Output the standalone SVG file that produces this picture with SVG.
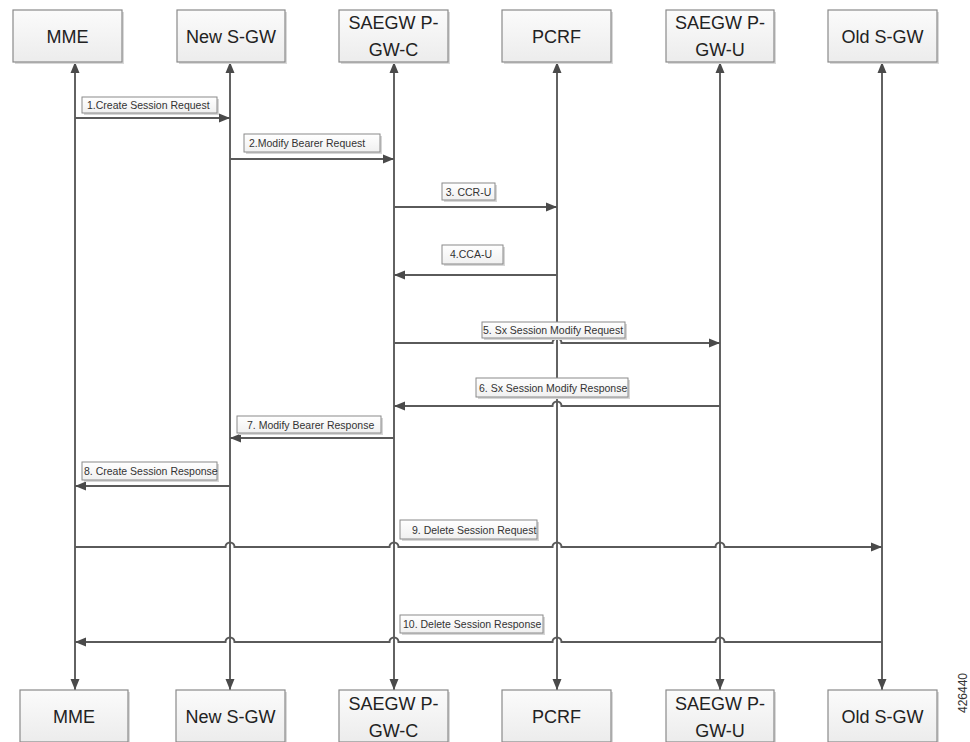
<svg xmlns="http://www.w3.org/2000/svg" width="970" height="742" viewBox="0 0 970 742">
<style>
  .box{fill:url(#boxg);stroke:#8a8a8a;stroke-width:1.2}
  .shadow{fill:#d9d9d9}
  .ntext{font-family:"Liberation Sans",Arial,sans-serif;font-size:18px;fill:#222;text-anchor:middle}
  .life{stroke:#626262;stroke-width:2;fill:none;marker-start:url(#ah);marker-end:url(#ah)}
  .msg{stroke:#5a5a5a;stroke-width:2;fill:none}
  .r{marker-end:url(#ah)}
  .l{marker-start:url(#ah)}
  .lbl{fill:url(#lblg);stroke:#8a8a8a;stroke-width:1}
  .lshadow{fill:#d6d6d6}
  .ltext{font-family:"Liberation Sans",Arial,sans-serif;font-size:10.5px;fill:#333}
  .id{font-family:"Liberation Sans",Arial,sans-serif;font-size:12px;fill:#333;text-anchor:middle}
</style>
<defs>
  <linearGradient id="boxg" x1="0" y1="0" x2="0" y2="1">
    <stop offset="0" stop-color="#fbfbfb"/>
    <stop offset="1" stop-color="#ececec"/>
  </linearGradient>
  <linearGradient id="lblg" x1="0" y1="0" x2="0" y2="1">
    <stop offset="0" stop-color="#ffffff"/>
    <stop offset="1" stop-color="#f0f0f0"/>
  </linearGradient>
  <marker id="ah" markerUnits="userSpaceOnUse" markerWidth="12" markerHeight="10" refX="11" refY="5" orient="auto-start-reverse">
    <path d="M0,0.5 L11,5 L0,9.5 Z" fill="#4a4a4a"/>
  </marker>
</defs>
<rect width="970" height="742" fill="#ffffff"/>

<g id="connectors">
  <g id="lifelines">
    <line class="life" x1="75" y1="62" x2="75" y2="690"/>
    <line class="life" x1="230" y1="62" x2="230" y2="690"/>
    <line class="life" x1="394" y1="62" x2="394" y2="690"/>
    <line class="life" x1="557" y1="62" x2="557" y2="690"/>
    <line class="life" x1="720" y1="62" x2="720" y2="690"/>
    <line class="life" x1="882" y1="62" x2="882" y2="690"/>
  </g>
  <g id="m1">
    <path class="msg r" d="M75,118 H230"/>
    <rect class="lshadow" x="84" y="99" width="135" height="16"/>
    <rect class="lbl" x="82" y="97" width="135" height="16"/>
    <text class="ltext" x="87" y="108.5">1.Create Session Request</text>
  </g>
  <g id="m2">
    <path class="msg r" d="M230,159 H394"/>
    <rect class="lshadow" x="246" y="136" width="136" height="18"/>
    <rect class="lbl" x="244" y="134" width="136" height="18"/>
    <text class="ltext" x="249" y="146.5">2.Modify Bearer Request</text>
  </g>
  <g id="m3">
    <path class="msg r" d="M394,207 H557"/>
    <rect class="lshadow" x="444" y="185" width="53" height="17"/>
    <rect class="lbl" x="442" y="183" width="53" height="17"/>
    <text class="ltext" x="468.5" y="195.5" text-anchor="middle">3. CCR-U</text>
  </g>
  <g id="m4">
    <path class="msg l" d="M394,275 H557"/>
    <rect class="lshadow" x="444" y="247" width="61" height="19"/>
    <rect class="lbl" x="442" y="245" width="61" height="19"/>
    <text class="ltext" x="471" y="258" text-anchor="middle">4.CCA-U</text>
  </g>
  <g id="m5">
    <path class="msg r" d="M394,343 H552.5 A4.5,4.5 0 0 1 561.5,343 H720"/>
    <rect class="lshadow" x="484" y="324" width="143" height="16"/>
    <rect class="lbl" x="482" y="322" width="143" height="16"/>
    <text class="ltext" x="483" y="333.5">5. Sx Session Modify Request</text>
  </g>
  <g id="m6">
    <path class="msg l" d="M394,406 H552.5 A4.5,4.5 0 0 1 561.5,406 H720"/>
    <rect class="lshadow" x="478" y="380" width="152" height="19"/>
    <rect class="lbl" x="476" y="378" width="152" height="19"/>
    <text class="ltext" x="479" y="391.5">6. Sx Session Modify Response</text>
  </g>
  <g id="m7">
    <path class="msg l" d="M230,438 H394"/>
    <rect class="lshadow" x="239" y="418" width="144" height="17"/>
    <rect class="lbl" x="237" y="416" width="144" height="17"/>
    <text class="ltext" x="247" y="428.5">7. Modify Bearer Response</text>
  </g>
  <g id="m8">
    <path class="msg l" d="M75,486 H230"/>
    <rect class="lshadow" x="84" y="464" width="135" height="18"/>
    <rect class="lbl" x="82" y="462" width="135" height="18"/>
    <text class="ltext" x="84" y="475">8. Create Session Response</text>
  </g>
  <g id="m9">
    <path class="msg r" d="M75,547 H225.5 A4.5,4.5 0 0 1 234.5,547 H389.5 A4.5,4.5 0 0 1 398.5,547 H552.5 A4.5,4.5 0 0 1 561.5,547 H715.5 A4.5,4.5 0 0 1 724.5,547 H882"/>
    <rect class="lshadow" x="402" y="522" width="137" height="19"/>
    <rect class="lbl" x="400" y="520" width="137" height="19"/>
    <text class="ltext" x="412" y="533.5">9. Delete Session Request</text>
  </g>
  <g id="m10">
    <path class="msg l" d="M75,642 H225.5 A4.5,4.5 0 0 1 234.5,642 H389.5 A4.5,4.5 0 0 1 398.5,642 H552.5 A4.5,4.5 0 0 1 561.5,642 H715.5 A4.5,4.5 0 0 1 724.5,642 H882"/>
    <rect class="lshadow" x="402" y="617" width="143" height="18"/>
    <rect class="lbl" x="400" y="615" width="143" height="18"/>
    <text class="ltext" x="403" y="628">10. Delete Session Response</text>
  </g>
</g>

<g id="node-mme">
  <rect class="shadow" x="15" y="12" width="109" height="52"/>
  <rect class="box" x="13" y="10" width="109" height="52"/>
  <text class="ntext" x="67.5" y="43">MME</text>
  <rect class="shadow" x="22" y="692" width="108" height="52"/>
  <rect class="box" x="20" y="690" width="108" height="52"/>
  <text class="ntext" x="74" y="723">MME</text>
</g>
<g id="node-new-sgw">
  <rect class="shadow" x="179" y="12" width="108" height="52"/>
  <rect class="box" x="177" y="10" width="108" height="52"/>
  <text class="ntext" x="231" y="43">New S-GW</text>
  <rect class="shadow" x="178" y="692" width="109" height="52"/>
  <rect class="box" x="176" y="690" width="109" height="52"/>
  <text class="ntext" x="230.5" y="723">New S-GW</text>
</g>
<g id="node-pgw-c">
  <rect class="shadow" x="341" y="12" width="109" height="52"/>
  <rect class="box" x="339" y="10" width="109" height="52"/>
  <text class="ntext" x="393.5" y="29">SAEGW P-</text>
  <text class="ntext" x="393.5" y="56">GW-C</text>
  <rect class="shadow" x="341" y="692" width="109" height="52"/>
  <rect class="box" x="339" y="690" width="109" height="52"/>
  <text class="ntext" x="393.5" y="710">SAEGW P-</text>
  <text class="ntext" x="393.5" y="737">GW-C</text>
</g>
<g id="node-pcrf">
  <rect class="shadow" x="504" y="12" width="109" height="52"/>
  <rect class="box" x="502" y="10" width="109" height="52"/>
  <text class="ntext" x="556.5" y="43">PCRF</text>
  <rect class="shadow" x="504" y="692" width="109" height="52"/>
  <rect class="box" x="502" y="690" width="109" height="52"/>
  <text class="ntext" x="556.5" y="723">PCRF</text>
</g>
<g id="node-pgw-u">
  <rect class="shadow" x="668" y="12" width="108" height="52"/>
  <rect class="box" x="666" y="10" width="108" height="52"/>
  <text class="ntext" x="720" y="29">SAEGW P-</text>
  <text class="ntext" x="720" y="56">GW-U</text>
  <rect class="shadow" x="668" y="692" width="108" height="52"/>
  <rect class="box" x="666" y="690" width="108" height="52"/>
  <text class="ntext" x="720" y="710">SAEGW P-</text>
  <text class="ntext" x="720" y="737">GW-U</text>
</g>
<g id="node-old-sgw">
  <rect class="shadow" x="830" y="12" width="109" height="52"/>
  <rect class="box" x="828" y="10" width="109" height="52"/>
  <text class="ntext" x="882.5" y="43">Old S-GW</text>
  <rect class="shadow" x="830" y="692" width="109" height="52"/>
  <rect class="box" x="828" y="690" width="109" height="52"/>
  <text class="ntext" x="882.5" y="723">Old S-GW</text>
</g>

<text class="id" transform="translate(967,693) rotate(-90)">426440</text>
</svg>
